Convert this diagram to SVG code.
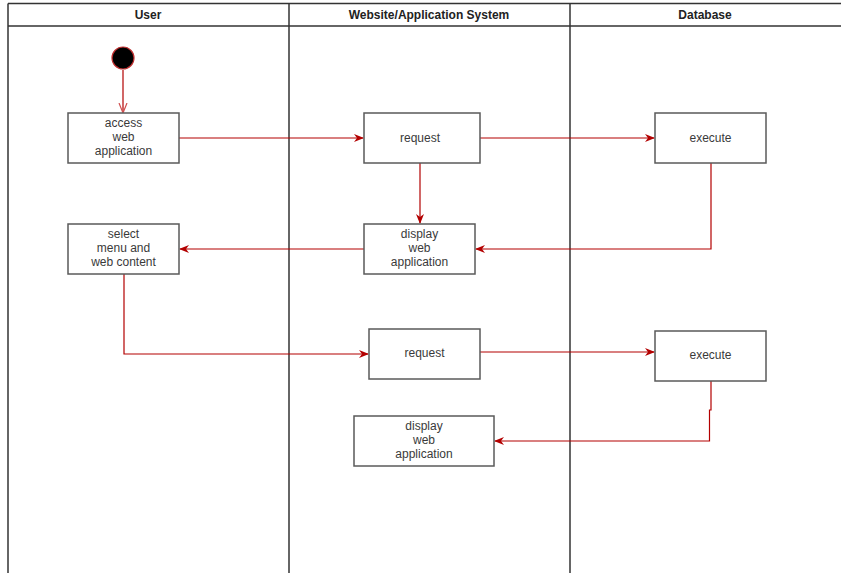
<svg xmlns="http://www.w3.org/2000/svg" width="841" height="573" viewBox="0 0 841 573">
<defs>
<style>
.lane{fill:none;stroke:#333;stroke-width:1.5}
.hdr{font-family:"Liberation Sans",Arial,sans-serif;font-size:12px;font-weight:bold;fill:#222;text-anchor:middle}
.box{fill:#fff;stroke:#5a5a5a;stroke-width:1.5}
.t{font-family:"Liberation Sans",Arial,sans-serif;font-size:12px;fill:#3a3a3a;text-anchor:middle}
.c{fill:none;stroke:#b30000;stroke-width:1.2}
</style>
<marker id="ah" viewBox="0 0 10 10" refX="9" refY="5" markerWidth="10" markerHeight="10" markerUnits="userSpaceOnUse" orient="auto">
<path d="M0,1 L10,5 L0,9 L3,5 Z" fill="#b30000"/>
</marker>
<marker id="ahOpen" viewBox="0 0 10 10" refX="9" refY="5" markerWidth="10" markerHeight="10" markerUnits="userSpaceOnUse" orient="auto">
<path d="M0,1 L10,5 L0,9" fill="none" stroke="#d05050" stroke-width="1.2"/>
</marker>
</defs>
<rect width="841" height="573" fill="#fff"/>
<g id="lanes">
<line class="lane" x1="8" y1="3.5" x2="841" y2="3.5"/>
<line class="lane" x1="8" y1="26" x2="841" y2="26"/>
<line class="lane" x1="8" y1="3.5" x2="8" y2="573"/>
<line class="lane" x1="289" y1="3.5" x2="289" y2="573"/>
<line class="lane" x1="570" y1="3.5" x2="570" y2="573"/>
<text class="hdr" x="148" y="19">User</text>
<text class="hdr" x="429" y="19">Website/Application System</text>
<text class="hdr" x="705" y="19">Database</text>
</g>
<g id="connectors">
<path class="c" d="M123,70 V112" stroke="#d05050" marker-end="url(#ahOpen)"/>
<path class="c" d="M179,138 H363" marker-end="url(#ah)"/>
<path class="c" d="M480,138 H654" marker-end="url(#ah)"/>
<path class="c" d="M420,163 V223" marker-end="url(#ah)"/>
<path class="c" d="M711,163 V249 H476" marker-end="url(#ah)"/>
<path class="c" d="M364,249 H180" marker-end="url(#ah)"/>
<path class="c" d="M124,274 V354 H368" marker-end="url(#ah)"/>
<path class="c" d="M480,352 H654" marker-end="url(#ah)"/>
<path class="c" d="M711,381 V410 H709.5 V441 H495" marker-end="url(#ah)"/>
</g>
<g id="start">
<circle cx="123" cy="58" r="11" fill="#000" stroke="#c03030" stroke-width="1.2"/>
</g>
<g id="access">
<rect class="box" x="68" y="113" width="111" height="50"/>
<text class="t" x="123.5" y="127">access</text>
<text class="t" x="123.5" y="141">web</text>
<text class="t" x="123.5" y="155">application</text>
</g>
<g id="request1">
<rect class="box" x="364" y="113" width="116" height="50"/>
<text class="t" x="420" y="142">request</text>
</g>
<g id="execute1">
<rect class="box" x="655" y="113" width="111" height="50"/>
<text class="t" x="710.5" y="142">execute</text>
</g>
<g id="display1">
<rect class="box" x="364" y="224" width="111" height="50"/>
<text class="t" x="419.5" y="238">display</text>
<text class="t" x="419.5" y="252">web</text>
<text class="t" x="419.5" y="266">application</text>
</g>
<g id="select">
<rect class="box" x="68" y="224" width="111" height="50"/>
<text class="t" x="123.5" y="238">select</text>
<text class="t" x="123.5" y="252">menu and</text>
<text class="t" x="123.5" y="266">web content</text>
</g>
<g id="request2">
<rect class="box" x="369" y="329" width="111" height="50"/>
<text class="t" x="424.5" y="357">request</text>
</g>
<g id="execute2">
<rect class="box" x="655" y="331" width="111" height="50"/>
<text class="t" x="710.5" y="359">execute</text>
</g>
<g id="display2">
<rect class="box" x="354" y="416" width="140" height="50"/>
<text class="t" x="424" y="430">display</text>
<text class="t" x="424" y="444">web</text>
<text class="t" x="424" y="458">application</text>
</g>
</svg>
